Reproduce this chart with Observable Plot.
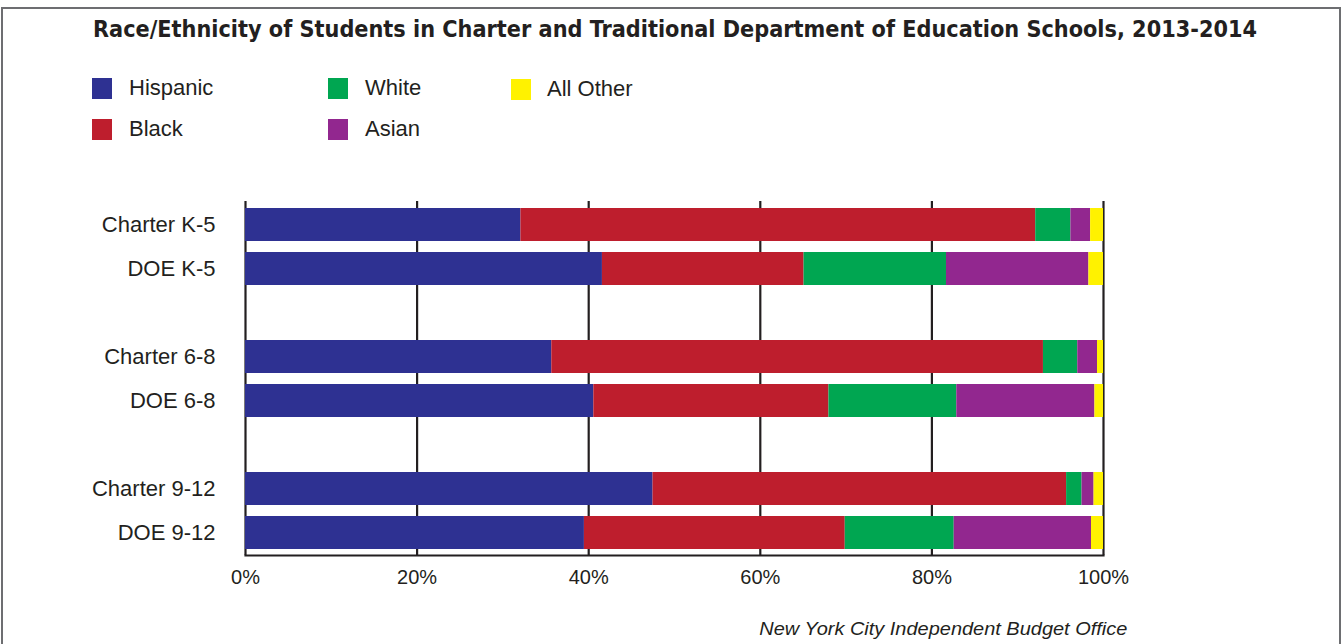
<!DOCTYPE html>
<html>
<head>
<meta charset="utf-8">
<script src="https://cdn.jsdelivr.net/npm/d3@7"></script>
<script src="https://cdn.jsdelivr.net/npm/@observablehq/plot@0.6"></script>
<style>
  html, body { margin: 0; padding: 0; background: #fff; }
  #wrap { position: relative; width: 1344px; height: 644px; overflow: hidden; font-family: "Liberation Sans", Arial, sans-serif; color: #231f20; }
  #border { position: absolute; left: 1px; top: 7px; width: 1336px; height: 700px; border: 2px solid #6d6e71; }
  .t { position: absolute; white-space: nowrap; line-height: 1; display: inline-block; }
  #title { left: 93px; top: 18px; font-family: "Liberation Sans Narrow", "DejaVu Sans Condensed", "Liberation Sans", sans-serif; font-weight: bold; font-size: 23px; transform-origin: left center; }
  .sw { position: absolute; width: 20px; height: 21px; }
  .lt { font-size: 22px; transform-origin: left center; }
  #caption { top: 619px; font-size: 19px; font-style: italic; transform-origin: right center; }
  #chart { position: absolute; left: 0; top: 190px; }
</style>
</head>
<body>
<div id="wrap">
  <div id="border"></div>
  <div id="title" class="t">Race/Ethnicity of Students in Charter and Traditional Department of Education Schools, 2013-2014</div>
  <div id="legend"></div>
  <div id="chart"></div>
  <div id="caption" class="t">New York City Independent Budget Office</div>
</div>
<script>
// ---- data ----
const groups = ["Charter K-5", "DOE K-5", "Charter 6-8", "DOE 6-8", "Charter 9-12", "DOE 9-12"];
const races = ["Hispanic", "Black", "White", "Asian", "All Other"];
const colors = ["#2e3192", "#be1e2d", "#00a651", "#92278f", "#fff200"];
const hispanic = [32.1, 41.6, 35.7, 40.6, 47.5, 39.5];
const black    = [60.0, 23.5, 57.3, 27.4, 48.2, 30.4];
const white    = [4.1, 16.6, 4.0, 14.9, 1.8, 12.7];
const asian    = [2.3, 16.6, 2.3, 16.1, 1.4, 16.0];
const other    = [1.5, 1.7, 0.7, 1.0, 1.1, 1.4];
const xTicks = [0, 20, 40, 60, 80, 100];
// row order with blank spacer rows between school levels
const rowOrder = ["Charter K-5", "DOE K-5", " ", "Charter 6-8", "DOE 6-8", "  ", "Charter 9-12", "DOE 9-12"];

const series = [hispanic, black, white, asian, other];
const table = [];
groups.forEach((g, i) => races.forEach((r, j) => table.push({group: g, race: r, value: series[j][i]})));

// ---- legend ----
const legend = document.getElementById("legend");
const legendPos = [
  {sx: 92, sy: 78, tx: 129, ty: 77},
  {sx: 92, sy: 119, tx: 129, ty: 118},
  {sx: 328, sy: 78, tx: 365, ty: 77},
  {sx: 328, sy: 119, tx: 365, ty: 118},
  {sx: 511, sy: 79, tx: 547, ty: 78}
];
races.forEach((r, i) => {
  const p = legendPos[i];
  const s = document.createElement("div");
  s.className = "sw";
  s.style.left = p.sx + "px"; s.style.top = p.sy + "px"; s.style.background = colors[i];
  legend.appendChild(s);
  const t = document.createElement("div");
  t.className = "t lt";
  t.style.left = p.tx + "px"; t.style.top = p.ty + "px";
  t.textContent = r;
  legend.appendChild(t);
});

// ---- chart ----
const chart = Plot.plot({
  width: 1344,
  height: 420,
  marginLeft: 245,
  marginRight: 241,
  marginTop: 11,
  marginBottom: 55,
  style: {fontFamily: "'Liberation Sans', Arial, sans-serif", fontSize: "22px", color: "#231f20", background: "transparent"},
  x: {domain: [0, 100], axis: null},
  y: {domain: rowOrder, paddingInner: 0.255, paddingOuter: 0.12, axis: null},
  color: {domain: races, range: colors},
  marks: [
    Plot.ruleX(xTicks, {stroke: "#231f20", strokeWidth: 2.2}),
    Plot.barX(table, Plot.stackX({x: "value", y: "group", fill: "race", order: races, inset: 0})),
    Plot.frame({anchor: "bottom", stroke: "#231f20", strokeWidth: 2.2}),
    Plot.axisX({ticks: xTicks, tickSize: 0, tickPadding: 14, tickFormat: d => d + "%", fontSize: 20, label: null}),
    Plot.axisY({tickSize: 0, tickPadding: 30, fontSize: 22, label: null})
  ]
});
document.getElementById("chart").appendChild(chart);

// ---- fit text widths ----
function fitLeft(el, w) {
  const r = el.getBoundingClientRect().width;
  el.style.transform = `scaleX(${w / r})`;
}
fitLeft(document.getElementById("title"), 1164);
const cap = document.getElementById("caption");
const cw = cap.getBoundingClientRect().width;
cap.style.left = (1127 - cw) + "px";
cap.style.transform = `scaleX(${368 / cw})`;
</script>
</body>
</html>
